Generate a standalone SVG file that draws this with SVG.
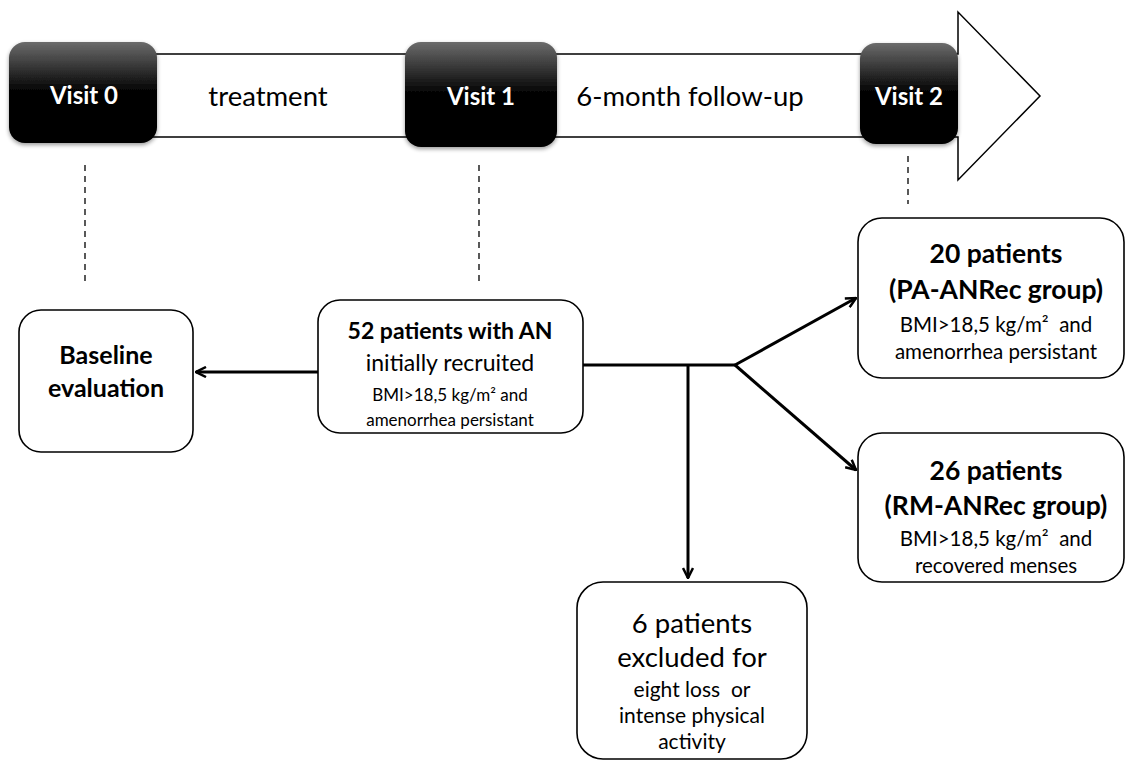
<svg xmlns="http://www.w3.org/2000/svg" width="1126" height="763" viewBox="0 0 1126 763">
<defs>
<linearGradient id="vg" x1="0" y1="0" x2="0" y2="1">
<stop offset="0" stop-color="#6b6b6b"/>
<stop offset="0.5" stop-color="#000"/>
<stop offset="1" stop-color="#000"/>
</linearGradient>
<filter id="sh" x="-10%" y="-10%" width="120%" height="125%">
<feGaussianBlur in="SourceAlpha" stdDeviation="2"/>
<feOffset dx="0" dy="2" result="b"/>
<feComponentTransfer><feFuncA type="linear" slope="0.4"/></feComponentTransfer>
<feMerge><feMergeNode/><feMergeNode in="SourceGraphic"/></feMerge>
</filter>
<marker id="ah" viewBox="0 0 12 12" refX="11" refY="6" markerWidth="12" markerHeight="12" markerUnits="userSpaceOnUse" orient="auto">
<path d="M1,1 L11,6 L1,11" fill="none" stroke="#000" stroke-width="2.5"/>
</marker>
</defs>
<style>
text{font-family:Lato,"Open Sans","Liberation Sans",sans-serif;text-anchor:middle;fill:#000;white-space:pre}
.v{fill:#fff;font-weight:bold;font-size:24px}
.b{font-weight:bold}
.box{fill:#fff;stroke:#000;stroke-width:1.6}
.dash{stroke:#000;stroke-width:1.3;stroke-dasharray:6,5;fill:none}
.con{stroke:#000;stroke-width:3;fill:none}
</style>
<rect width="1126" height="763" fill="#fff"/>
<g id="timeline">
<path d="M100,54 L958,54 L958,12 L1040,96 L958,180 L958,137 L100,137 Z" fill="#fff" stroke="#000" stroke-width="1.5"/>
<text x="268" y="106" font-size="27.5">treatment</text>
<text x="690" y="106" font-size="27.5">6-month follow-up</text>
</g>
<g id="visit0">
<rect x="9" y="42" width="148" height="101" rx="16" fill="url(#vg)" filter="url(#sh)"/>
<text class="v" x="84" y="104">Visit 0</text>
</g>
<g id="visit1">
<rect x="405" y="42" width="152" height="105" rx="16" fill="url(#vg)" filter="url(#sh)"/>
<text class="v" x="481" y="105">Visit 1</text>
</g>
<g id="visit2">
<rect x="860" y="43" width="98" height="101" rx="16" fill="url(#vg)" filter="url(#sh)"/>
<text class="v" x="909" y="105">Visit 2</text>
</g>
<g id="connectors">
<line class="dash" x1="85" y1="165" x2="85" y2="285"/>
<line class="dash" x1="479" y1="165" x2="479" y2="285"/>
<line class="dash" x1="908" y1="156" x2="908" y2="204"/>
<line class="con" x1="318" y1="372" x2="196" y2="372" marker-end="url(#ah)"/>
<polyline class="con" points="583,365 735,365"/>
<line class="con" x1="688" y1="365" x2="688" y2="578" marker-end="url(#ah)"/>
<line class="con" x1="735" y1="365" x2="856" y2="298" marker-end="url(#ah)"/>
<line class="con" x1="735" y1="365" x2="856" y2="470" marker-end="url(#ah)"/>
</g>
<g id="baseline">
<rect class="box" x="19" y="310" width="174" height="142" rx="22"/>
<text class="b" x="106" y="364" font-size="25">Baseline</text>
<text class="b" x="106" y="397" font-size="25">evaluation</text>
</g>
<g id="recruited">
<rect class="box" x="318" y="300" width="265" height="133" rx="22"/>
<text class="b" x="450" y="339" font-size="23">52 patients with AN</text>
<text x="450" y="371" font-size="23">initially recruited</text>
<text x="450" y="401" font-size="17">BMI&gt;18,5 kg/m² and</text>
<text x="450" y="426" font-size="17">amenorrhea persistant</text>
</g>
<g id="pa">
<rect class="box" x="858" y="218" width="266" height="160" rx="24"/>
<text class="b" x="996" y="263" font-size="26.5">20 patients</text>
<text class="b" x="996" y="299" font-size="26.5">(PA-ANRec group)</text>
<text x="996" y="332" font-size="20.5">BMI&gt;18,5 kg/m²  and</text>
<text x="996" y="359" font-size="20.5">amenorrhea persistant</text>
</g>
<g id="rm">
<rect class="box" x="858" y="433" width="266" height="149" rx="24"/>
<text class="b" x="996" y="480" font-size="26.5">26 patients</text>
<text class="b" x="996" y="515" font-size="26.5">(RM-ANRec group)</text>
<text x="996" y="546" font-size="20.5">BMI&gt;18,5 kg/m²  and</text>
<text x="996" y="573" font-size="20.5">recovered menses</text>
</g>
<g id="excluded">
<rect class="box" x="577" y="582" width="230" height="177" rx="26"/>
<text x="692" y="633" font-size="27.5">6 patients</text>
<text x="692" y="667" font-size="27.5">excluded for</text>
<text x="692" y="697" font-size="21">eight loss  or</text>
<text x="692" y="723" font-size="21">intense physical</text>
<text x="692" y="749" font-size="21">activity</text>
</g>
</svg>
